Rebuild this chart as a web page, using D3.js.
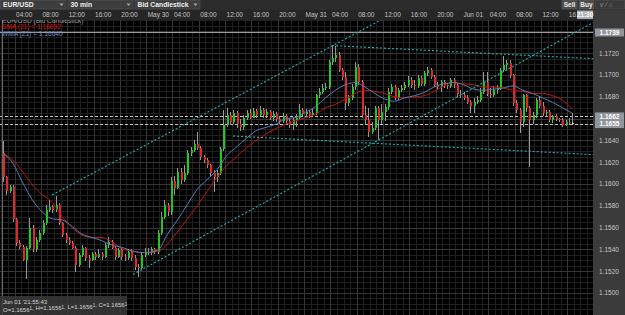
<!DOCTYPE html>
<html>
<head>
<meta charset="utf-8">
<script src="https://cdn.jsdelivr.net/npm/d3@7"></script>
<style>
body { margin: 0; background: #000; }
svg { display: block; font-family: "Liberation Sans", Arial, sans-serif; }
</style>
</head>
<body>
<svg id="chart"></svg>
<script>
// EUR/USD, 30 min bid candles, first bar May 29 02:00
const startTime = new Date(2017, 4, 29, 2, 0);
const barMinutes = 30;

const opens = [
1.1628,1.1606,1.1594,1.1597,1.1568,1.1546,1.1542,1.1530,1.1541,1.1560,
1.1540,1.1549,1.1555,1.1564,1.1576,1.1579,1.1576,1.1581,1.1564,1.1553,
1.1549,1.1546,1.1541,1.1526,1.1535,1.1541,1.1532,1.1530,1.1536,1.1533,
1.1536,1.1533,1.1544,1.1547,1.1541,1.1533,1.1539,1.1533,1.1532,1.1538,
1.1532,1.1524,1.1523,1.1535,1.1538,1.1537,1.1540,1.1538,1.1555,1.1570,
1.1581,1.1574,1.1603,1.1596,1.1611,1.1604,1.1610,1.1628,1.1631,1.1637,
1.1633,1.1625,1.1622,1.1617,1.1610,1.1606,1.1610,1.1632,1.1654,1.1663,
1.1657,1.1665,1.1655,1.1652,1.1661,1.1665,1.1661,1.1667,1.1663,1.1668,
1.1663,1.1666,1.1661,1.1664,1.1660,1.1658,1.1662,1.1658,1.1654,1.1659,
1.1661,1.1668,1.1664,1.1666,1.1663,1.1665,1.1682,1.1684,1.1688,1.1689,
1.1712,1.1716,1.1718,1.1705,1.1698,1.1674,1.1679,1.1689,1.1707,1.1694,
1.1663,1.1659,1.1648,1.1651,1.1670,1.1659,1.1666,1.1671,1.1684,1.1689,
1.1679,1.1686,1.1688,1.1691,1.1695,1.1691,1.1690,1.1697,1.1692,1.1702,
1.1705,1.1698,1.1691,1.1689,1.1694,1.1691,1.1690,1.1695,1.1691,1.1683,
1.1682,1.1679,1.1675,1.1672,1.1675,1.1677,1.1684,1.1694,1.1683,1.1682,
1.1686,1.1688,1.1705,1.1709,1.1711,1.1700,1.1674,1.1668,1.1657,1.1682,
1.1670,1.1659,1.1663,1.1677,1.1672,1.1665,1.1666,1.1659,1.1662,1.1660,
1.1659,1.1654,1.1657,1.1656
];
const highs = [
1.1639,1.1607,1.1599,1.1599,1.1569,1.1549,1.1544,1.1543,1.1569,1.1562,
1.1551,1.1558,1.1567,1.1581,1.1585,1.1581,1.1589,1.1583,1.1565,1.1555,
1.1551,1.1548,1.1543,1.1537,1.1544,1.1542,1.1535,1.1538,1.1538,1.1540,
1.1538,1.1546,1.1551,1.1549,1.1543,1.1541,1.1541,1.1536,1.1540,1.1540,
1.1535,1.1527,1.1537,1.1541,1.1541,1.1542,1.1541,1.1558,1.1574,1.1585,
1.1583,1.1606,1.1607,1.1615,1.1615,1.1617,1.1631,1.1634,1.1640,1.1648,
1.1635,1.1627,1.1624,1.1618,1.1613,1.1613,1.1634,1.1668,1.1670,1.1666,
1.1668,1.1667,1.1660,1.1663,1.1668,1.1669,1.1670,1.1669,1.1672,1.1670,
1.1669,1.1668,1.1667,1.1666,1.1662,1.1665,1.1664,1.1661,1.1661,1.1664,
1.1673,1.1670,1.1669,1.1668,1.1669,1.1683,1.1688,1.1692,1.1693,1.1714,
1.1727,1.1727,1.1721,1.1706,1.1703,1.1682,1.1692,1.1712,1.1710,1.1695,
1.1672,1.1670,1.1657,1.1672,1.1672,1.1673,1.1673,1.1688,1.1692,1.1691,
1.1688,1.1691,1.1694,1.1699,1.1698,1.1695,1.1700,1.1699,1.1704,1.1707,
1.1706,1.1700,1.1694,1.1695,1.1695,1.1693,1.1697,1.1697,1.1693,1.1686,
1.1684,1.1682,1.1677,1.1679,1.1681,1.1688,1.1703,1.1703,1.1688,1.1690,
1.1691,1.1706,1.1717,1.1714,1.1714,1.1701,1.1677,1.1670,1.1683,1.1683,
1.1672,1.1666,1.1679,1.1681,1.1675,1.1668,1.1668,1.1663,1.1664,1.1661,
1.1661,1.1659,1.1661,1.1665
];
const lows = [
1.1602,1.1590,1.1592,1.1565,1.1543,1.1540,1.1529,1.1513,1.1540,1.1538,
1.1538,1.1547,1.1553,1.1562,1.1574,1.1573,1.1574,1.1562,1.1551,1.1546,
1.1544,1.1540,1.1519,1.1524,1.1533,1.1529,1.1523,1.1529,1.1530,1.1532,
1.1530,1.1532,1.1541,1.1540,1.1530,1.1532,1.1530,1.1529,1.1530,1.1529,
1.1521,1.1515,1.1521,1.1533,1.1535,1.1535,1.1536,1.1536,1.1553,1.1568,
1.1571,1.1572,1.1590,1.1595,1.1600,1.1602,1.1608,1.1626,1.1629,1.1631,
1.1622,1.1619,1.1615,1.1606,1.1593,1.1602,1.1608,1.1630,1.1652,1.1654,
1.1655,1.1651,1.1649,1.1650,1.1659,1.1660,1.1661,1.1661,1.1662,1.1661,
1.1661,1.1659,1.1658,1.1657,1.1655,1.1656,1.1654,1.1651,1.1650,1.1652,
1.1659,1.1662,1.1662,1.1661,1.1662,1.1663,1.1679,1.1683,1.1686,1.1687,
1.1709,1.1712,1.1703,1.1695,1.1668,1.1672,1.1677,1.1686,1.1691,1.1661,
1.1655,1.1643,1.1646,1.1650,1.1640,1.1655,1.1658,1.1668,1.1683,1.1677,
1.1677,1.1684,1.1686,1.1689,1.1688,1.1686,1.1688,1.1690,1.1690,1.1699,
1.1696,1.1689,1.1686,1.1684,1.1688,1.1687,1.1688,1.1688,1.1680,1.1679,
1.1677,1.1673,1.1665,1.1665,1.1673,1.1675,1.1683,1.1681,1.1679,1.1680,
1.1683,1.1686,1.1703,1.1705,1.1697,1.1672,1.1665,1.1647,1.1652,1.1666,
1.1616,1.1655,1.1661,1.1670,1.1662,1.1662,1.1657,1.1656,1.1658,1.1657,
1.1652,1.1653,1.1654,1.1655
];
const closes = [
1.1606,1.1594,1.1597,1.1568,1.1546,1.1542,1.1530,1.1541,1.1560,1.1540,
1.1549,1.1555,1.1564,1.1576,1.1579,1.1576,1.1581,1.1564,1.1553,1.1549,
1.1546,1.1541,1.1526,1.1535,1.1541,1.1532,1.1530,1.1536,1.1533,1.1536,
1.1533,1.1544,1.1547,1.1541,1.1533,1.1539,1.1533,1.1532,1.1538,1.1532,
1.1524,1.1523,1.1535,1.1538,1.1537,1.1540,1.1538,1.1555,1.1570,1.1581,
1.1574,1.1603,1.1596,1.1611,1.1604,1.1610,1.1628,1.1631,1.1637,1.1633,
1.1625,1.1622,1.1617,1.1610,1.1606,1.1610,1.1632,1.1654,1.1663,1.1657,
1.1665,1.1655,1.1652,1.1661,1.1665,1.1661,1.1667,1.1663,1.1668,1.1663,
1.1666,1.1661,1.1664,1.1660,1.1658,1.1662,1.1658,1.1654,1.1659,1.1661,
1.1668,1.1664,1.1666,1.1663,1.1665,1.1682,1.1684,1.1688,1.1689,1.1712,
1.1716,1.1718,1.1705,1.1698,1.1674,1.1679,1.1689,1.1707,1.1694,1.1663,
1.1659,1.1648,1.1651,1.1670,1.1659,1.1666,1.1671,1.1684,1.1689,1.1679,
1.1686,1.1688,1.1691,1.1695,1.1691,1.1690,1.1697,1.1692,1.1702,1.1705,
1.1698,1.1691,1.1689,1.1694,1.1691,1.1690,1.1695,1.1691,1.1683,1.1682,
1.1679,1.1675,1.1672,1.1675,1.1677,1.1684,1.1694,1.1683,1.1682,1.1686,
1.1688,1.1705,1.1709,1.1711,1.1700,1.1674,1.1668,1.1657,1.1682,1.1670,
1.1659,1.1663,1.1677,1.1672,1.1665,1.1666,1.1659,1.1662,1.1660,1.1659,
1.1654,1.1657,1.1656,1.1656
];

// moving averages, at these bar numbers
const maIdx = [0,3,6,9,12,15,18,21,24,27,30,33,36,40,43,47,50,53,56,59,62,65,68,71,74,77,80,83,86,89,
  92,95,98,101,104,107,110,113,116,119,122,125,128,131,134,137,140,143,146,149,152,155,158,161,164,167,170,173];
const smaVals = [1.1628,1.1622,1.1611,1.1599,1.1590,1.1583,1.1570,1.1560,1.1553,1.1551,1.1551,1.1547,1.1541,1.1538,1.1537,
  1.1538,1.1545,1.1556,1.1568,1.1580,1.1593,1.1606,1.1617,1.1625,1.1633,1.1640,1.1646,1.1651,1.1655,1.1658,
  1.1661,1.1664,1.1670,1.1673,1.1678,1.1683,1.1686,1.1685,1.1683,1.1680,1.1679,1.1680,1.1681,1.1685,1.1690,
  1.1693,1.1692,1.1691,1.1689,1.1689,1.1688,1.1686,1.1685,1.1683,1.1683,1.1681,1.1677,1.1669];
const wmaVals = [1.1628,1.1619,1.1601,1.1585,1.1574,1.1568,1.1567,1.1561,1.1554,1.1551,1.1548,1.1544,1.1542,1.1538,1.1537,
  1.1539,1.1554,1.1567,1.1581,1.1595,1.1604,1.1613,1.1626,1.1634,1.1642,1.1649,1.1652,1.1655,1.1660,1.1661,
  1.1666,1.1671,1.1679,1.1686,1.1691,1.1693,1.1689,1.1683,1.1678,1.1676,1.1679,1.1681,1.1684,1.1689,1.1692,
  1.1693,1.1691,1.1687,1.1686,1.1687,1.1688,1.1690,1.1686,1.1683,1.1679,1.1675,1.1670,1.1665];

// drawn trend channels: [bar from, price from, bar to, price to]
const channelLines = [
  [39.5, 1.1517, 179.3, 1.1748],
  [14.9, 1.1590, 179.3, 1.1854],
  [100, 1.1727, 179.3, 1.1715],
  [69.9, 1.1644, 179.3, 1.1627]
];
// horizontal price marks on the right axis
const markPrices = [1.1739, 1.1662, 1.1655];
const markDashed = [false, true, true];

const W = 625, H = 315;
const plot = {left: 0, right: 593, top: 20, bottom: 315};

const svg = d3.select('#chart').attr('width', W).attr('height', H);

const barTime = i => new Date(startTime.getTime() + (i + 0.5) * barMinutes * 60000);

const xScale = d3.scaleTime()
  .domain([startTime, new Date(2017, 5, 1, 20, 0)])
  .range([1.4, 593.6]);
const yScale = d3.scaleLinear()
  .domain([1.1500, 1.1700])
  .range([293, 75]);
const xAt = i => xScale(barTime(i));

svg.append('rect').attr('width', W).attr('height', H).attr('fill', '#000');

// grid
const grid = svg.append('g').attr('shape-rendering', 'crispEdges');
const pLo = yScale.invert(plot.bottom), pHi = yScale.invert(plot.top);
grid.selectAll('.hmin').data(d3.ticks(pLo, pHi, 54)).enter().append('line')
  .attr('x1', plot.left).attr('x2', plot.right)
  .attr('y1', d => Math.round(yScale(d)) + 0.5).attr('y2', d => Math.round(yScale(d)) + 0.5)
  .attr('stroke', '#1f1f1f');
grid.selectAll('.vmin').data(xScale.ticks(d3.timeHour.every(1))).enter().append('line')
  .attr('x1', d => Math.round(xScale(d)) + 0.5).attr('x2', d => Math.round(xScale(d)) + 0.5)
  .attr('y1', plot.top).attr('y2', plot.bottom)
  .attr('stroke', '#1f1f1f');
const majorPrices = d3.ticks(pLo, pHi, 13);
grid.selectAll('.hmaj').data(majorPrices).enter().append('line')
  .attr('x1', plot.left).attr('x2', plot.right)
  .attr('y1', d => Math.round(yScale(d)) + 0.5).attr('y2', d => Math.round(yScale(d)) + 0.5)
  .attr('stroke', '#363636');
const majorTimes = xScale.ticks(d3.timeHour.every(4)).filter(d => xScale(d) < plot.right - 12);
grid.selectAll('.vmaj').data(majorTimes).enter().append('line')
  .attr('x1', d => Math.round(xScale(d)) + 0.5).attr('x2', d => Math.round(xScale(d)) + 0.5)
  .attr('y1', plot.top).attr('y2', plot.bottom)
  .attr('stroke', '#363636');

svg.append('clipPath').attr('id', 'plotclip').append('rect')
  .attr('x', plot.left).attr('y', plot.top)
  .attr('width', plot.right - plot.left).attr('height', plot.bottom - plot.top);
const chart = svg.append('g').attr('clip-path', 'url(#plotclip)');

// price marks
markPrices.forEach((p, k) => {
  const y = Math.round(yScale(p)) + 0.5;
  chart.append('line')
    .attr('x1', plot.left).attr('x2', plot.right).attr('y1', y).attr('y2', y)
    .attr('stroke', markDashed[k] ? '#c4c4c4' : '#9c9c9c')
    .attr('stroke-dasharray', markDashed[k] ? '3,2' : null);
});

// candles
const bars = d3.range(opens.length);
chart.append('g').attr('shape-rendering', 'crispEdges')
  .selectAll('line').data(bars).enter().append('line')
  .attr('x1', i => Math.round(xAt(i)) + 0.5).attr('x2', i => Math.round(xAt(i)) + 0.5)
  .attr('y1', i => yScale(highs[i])).attr('y2', i => yScale(lows[i]))
  .attr('stroke', '#9a9a9a');
chart.append('g').attr('shape-rendering', 'crispEdges')
  .selectAll('rect').data(bars).enter().append('rect')
  .attr('x', i => Math.round(xAt(i)) - 0.5)
  .attr('width', 2)
  .attr('y', i => yScale(Math.max(opens[i], closes[i])))
  .attr('height', i => Math.max(1, Math.abs(yScale(opens[i]) - yScale(closes[i]))))
  .attr('fill', i => closes[i] > opens[i] ? '#22c722' : (closes[i] < opens[i] ? '#e02828' : '#d8c8c8'));

// moving averages
const maLine = vals => d3.line()
  .x((d, k) => xAt(d))
  .y((d, k) => yScale(vals[k]))
  .curve(d3.curveMonotoneX)(maIdx);
chart.append('path').attr('d', maLine(smaVals))
  .attr('fill', 'none').attr('stroke', '#c01414').attr('stroke-width', 1);
chart.append('path').attr('d', maLine(wmaVals))
  .attr('fill', 'none').attr('stroke', '#5b7bb8').attr('stroke-width', 1);

// channels
chart.selectAll('.chan').data(channelLines).enter().append('line')
  .attr('x1', d => xAt(d[0])).attr('y1', d => yScale(d[1]))
  .attr('x2', d => xAt(d[2])).attr('y2', d => yScale(d[3]))
  .attr('stroke', '#1fb3b3').attr('stroke-width', 1.1).attr('stroke-dasharray', '2,2');

// left border
svg.append('line').attr('x1', 2.5).attr('x2', 2.5).attr('y1', plot.top).attr('y2', plot.bottom)
  .attr('stroke', '#6a6a6a');

// legend
const legend = svg.append('g').attr('font-size', '6.6px');
legend.append('text').attr('x', 2).attr('y', 23.2).attr('fill', '#9a9a9a').text('EUR/USD (Bid Candlestick)');
legend.append('text').attr('x', 2).attr('y', 29.2).attr('fill', '#e01010').text('SMA (21) = 1.16692');
legend.append('text').attr('x', 2).attr('y', 35.5).attr('fill', '#6f8fd6').text('WMA (21) = 1.16640');

// right price axis
svg.append('rect').attr('x', plot.right).attr('y', 10).attr('width', W - plot.right).attr('height', H - 10)
  .attr('fill', '#3b3b3b');
const markY = markPrices.map(p => yScale(p));
const axisLabels = majorPrices.filter(p => {
  const y = yScale(p);
  return y > plot.top + 4 && y < plot.bottom - 4 && markY.every(m => Math.abs(m - y) > 7);
});
svg.append('g').selectAll('text').data(axisLabels).enter().append('text')
  .attr('x', 609).attr('y', d => yScale(d) + 2.3)
  .attr('text-anchor', 'middle').attr('font-size', '6.5px').attr('fill', '#c8c8c8')
  .text(d3.format('.4f'));
const marks = svg.append('g');
markPrices.forEach(p => {
  const y = yScale(p);
  marks.append('rect').attr('x', 595).attr('y', y - 4).attr('width', 29).attr('height', 8)
    .attr('fill', '#8f969d');
  marks.append('text').attr('x', 609.5).attr('y', y + 2.4).attr('text-anchor', 'middle')
    .attr('font-size', '6.5px').attr('font-weight', 'bold').attr('fill', '#fff')
    .text(d3.format('.4f')(p));
});

// top time axis, labels cut off where the current-time box starts
svg.append('rect').attr('x', 0).attr('y', 10).attr('width', plot.right).attr('height', 10).attr('fill', '#262626');
svg.append('clipPath').attr('id', 'timeclip').append('rect')
  .attr('x', 0).attr('y', 10).attr('width', 576).attr('height', 10);
const timeFmt = d => d.getHours() === 0 ? d3.timeFormat('%b %d')(d) : d3.timeFormat('%H:%M')(d);
svg.append('g').attr('clip-path', 'url(#timeclip)')
  .selectAll('text').data(majorTimes).enter().append('text')
  .attr('x', d => xScale(d) + 1.5).attr('y', 17.3)
  .attr('font-size', '6.5px').attr('fill', '#c4c4c4')
  .text(timeFmt);
svg.append('rect').attr('x', 577).attr('y', 10.5).attr('width', 16).attr('height', 8.5).attr('fill', '#a9b0b7');
svg.append('text').attr('x', 585).attr('y', 17.2).attr('text-anchor', 'middle')
  .attr('font-size', '6.5px').attr('font-weight', 'bold').attr('fill', '#fff').text('21:30');

// toolbar
svg.append('rect').attr('width', W).attr('height', 10).attr('fill', '#2c2c2c');
const dropdowns = [['EUR/USD', 0.5, 66], ['30 min', 68, 133], ['Bid Candlestick', 135, 200]];
dropdowns.forEach(d => {
  svg.append('rect').attr('x', d[1]).attr('y', 0.5).attr('width', d[2] - d[1]).attr('height', 8.5)
    .attr('fill', '#3d3d3d').attr('stroke', '#555').attr('stroke-width', 0.6);
  svg.append('text').attr('x', d[1] + 2.5).attr('y', 7.2)
    .attr('font-size', '6.8px').attr('font-weight', 'bold').attr('fill', '#f0f0f0').text(d[0]);
  svg.append('path').attr('d', `M${d[2] - 6.5},3.5 L${d[2] - 2.5},3.5 L${d[2] - 4.5},6 Z`).attr('fill', '#aaa');
});
[['Sell', 562, 577], ['Buy', 579, 594]].forEach(b => {
  svg.append('rect').attr('x', b[1]).attr('y', 0.5).attr('width', b[2] - b[1]).attr('height', 8.5)
    .attr('fill', '#4a4a4a').attr('stroke', '#666').attr('stroke-width', 0.5);
  svg.append('text').attr('x', (b[1] + b[2]) / 2).attr('y', 7.2).attr('text-anchor', 'middle')
    .attr('font-size', '6.5px').attr('font-weight', 'bold').attr('fill', '#f2f2f2').text(b[0]);
});
svg.append('rect').attr('x', 595.5).attr('y', 0.5).attr('width', 29).attr('height', 8.5)
  .attr('fill', '#3a3a3a').attr('stroke', '#555').attr('stroke-width', 0.5);
svg.append('text').attr('x', 599).attr('y', 7.2).attr('font-size', '6.5px').attr('fill', '#8a8a8a').text('∨ ⁄ ⌂');

// last tick info box
const info = svg.append('g');
info.append('rect').attr('x', 0).attr('y', 296).attr('width', 127).attr('height', 19)
  .attr('fill', '#3a3a3a').attr('fill-opacity', 0.85);
info.append('text').attr('x', 3).attr('y', 303.5).attr('font-size', '6px').attr('fill', '#d8d8d8')
  .text("Jun 01 '21:55:43");
const ohlcText = info.append('text').attr('x', 3).attr('y', 311.5).attr('font-size', '6px').attr('fill', '#d8d8d8');
['O', 'H', 'L', 'C'].forEach((k, n) => {
  ohlcText.append('tspan').text((n ? ', ' : '') + k + '=1.1656');
  ohlcText.append('tspan').attr('font-size', '4.5px').attr('dy', -1.5).text('1');
  ohlcText.append('tspan').attr('dy', 1.5).text('');
});
</script>
</body>
</html>
